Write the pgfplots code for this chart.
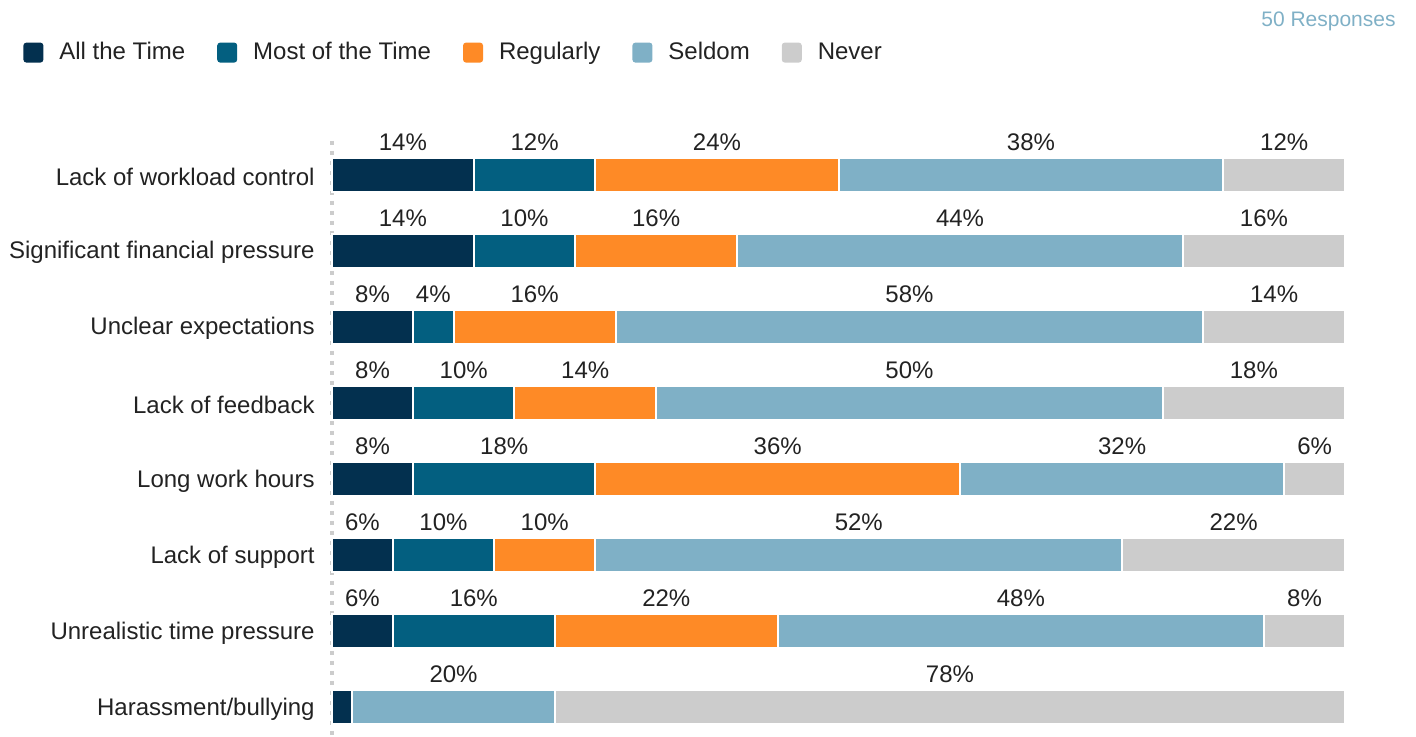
\documentclass[border=0pt]{standalone}
\usepackage{fontspec}
\setmainfont{Liberation Sans}
\usepackage{pgfplots}
\usepackage{pgfplotstable}
\pgfplotsset{compat=1.18}
\definecolor{c1}{HTML}{03304F}
\definecolor{c2}{HTML}{035F80}
\definecolor{c3}{HTML}{FE8A26}
\definecolor{c4}{HTML}{7FB0C6}
\definecolor{c5}{HTML}{CCCCCC}
\definecolor{txt}{HTML}{222222}
\pgfplotstableread{
y a b c d e
0 14 12 24 38 12
1 14 10 16 44 16
2 8 4 16 58 14
3 8 10 14 50 18
4 8 18 36 32 6
5 6 10 10 52 22
6 6 16 22 48 8
7 2 0 0 20 78
}\data
\begin{document}
\begin{tikzpicture}[x=1pt,y=1pt]
\path[use as bounding box] (0,0) rectangle (708,368.5);
\pgfplotsset{base/.style={scale only axis, width=506.5pt, height=298.3pt,
  xmin=0, xmax=100, ymin=-0.45, ymax=7.4, y dir=reverse,
  at={(166pt,-0.3pt)}, anchor=south west, clip=false}}
\begin{axis}[base, xbar stacked, bar width=17pt,
  axis x line=none, axis y line*=left,
  y axis line style={draw=c5, line width=2pt, dash pattern=on 2pt off 3pt},
  ytick={0,...,7},
  yticklabels={Lack of workload control, Significant financial pressure, Unclear expectations, Lack of feedback, Long work hours, Lack of support, Unrealistic time pressure, Harassment/bullying},
  major tick length=0pt,
  yticklabel style={font=\fontsize{12}{14}\selectfont, text=txt, inner sep=0pt, xshift=-8.5pt, yshift=-0.8pt},
  legend columns=5,
  legend style={draw=none, fill=none, at={(axis description cs:0,1)}, anchor=west,
    xshift=-154.5pt, yshift=44.2pt, inner sep=0pt, font=\fontsize{12}{14}\selectfont, text=txt,
    /tikz/every odd column/.append style={column sep=8pt},
    /tikz/every even column/.append style={column sep=16pt},
    nodes={inner sep=0pt}},
  legend image code/.code={\fill[#1, draw=none, rounded corners=1.5pt] (0pt,-5pt) rectangle (10pt,5pt);}
]
\addplot[fill=c1, draw=white, line width=1pt] table[x=a, y=y] {\data};
\addplot[fill=c2, draw=white, line width=1pt] table[x=b, y=y] {\data};
\addplot[fill=c3, draw=white, line width=1pt] table[x=c, y=y] {\data};
\addplot[fill=c4, draw=white, line width=1pt] table[x=d, y=y] {\data};
\addplot[fill=c5, draw=white, line width=1pt] table[x=e, y=y] {\data};
\legend{All the Time, Most of the Time, Regularly, Seldom, Never}
\end{axis}
\begin{axis}[base, hide axis,
  /pgf/number format/assume math mode=true,
  nodes near coords={\pgfmathprintnumber{\pgfplotspointmeta}\%},
  point meta=explicit,
  every node near coord/.append style={anchor=center, font=\fontsize{12}{14}\selectfont, text=txt, inner sep=0pt}]
\addplot[draw=none, skip coords between index={7}{8}] table[x expr=\thisrow{a}/2, y expr=\thisrow{y}-0.435, meta=a] {\data};
\addplot[draw=none, skip coords between index={7}{8}] table[x expr=\thisrow{a}+\thisrow{b}/2, y expr=\thisrow{y}-0.435, meta=b] {\data};
\addplot[draw=none, skip coords between index={7}{8}] table[x expr=\thisrow{a}+\thisrow{b}+\thisrow{c}/2, y expr=\thisrow{y}-0.435, meta=c] {\data};
\addplot[draw=none] table[x expr=\thisrow{a}+\thisrow{b}+\thisrow{c}+\thisrow{d}/2, y expr=\thisrow{y}-0.435, meta=d] {\data};
\addplot[draw=none] table[x expr=\thisrow{a}+\thisrow{b}+\thisrow{c}+\thisrow{d}+\thisrow{e}/2, y expr=\thisrow{y}-0.435, meta=e] {\data};
\end{axis}
\node[anchor=east, inner sep=0pt, font=\fontsize{10.5}{12}\selectfont, text=c4] at (698,358) {50 Responses};
\end{tikzpicture}
\end{document}
